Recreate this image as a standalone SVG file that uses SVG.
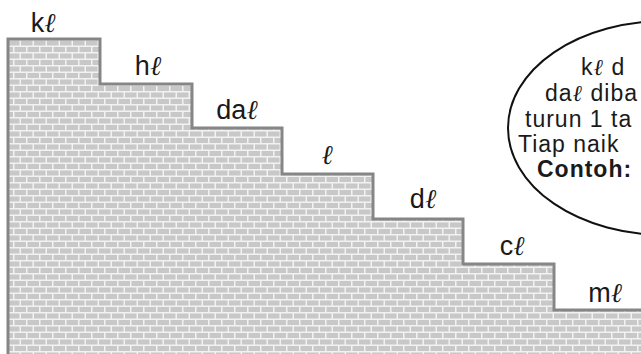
<svg xmlns="http://www.w3.org/2000/svg" width="641" height="354" viewBox="0 0 641 354">
  <style>
    .lbl { font-family: "Liberation Sans", Arial, sans-serif; font-size: 27px; fill: #1a1a1a; text-anchor: middle; }
    .note { font-family: "Liberation Sans", Arial, sans-serif; font-size: 23px; letter-spacing: 1px; fill: #1a1a1a; }
    .bold { font-weight: bold; }
    .l { font-family: "DejaVu Serif", "Liberation Serif", serif; font-style: italic; }
  </style>
  <defs>
    <pattern id="bricks" patternUnits="userSpaceOnUse" x="8" y="39" width="13" height="13">
      <rect x="0" y="0" width="13" height="13" fill="#f2f2f2"/>
      <rect x="0" y="1.5" width="11.5" height="5" fill="#c8c8c8"/>
      <rect x="-6.5" y="8" width="11.5" height="5" fill="#c8c8c8"/>
      <rect x="6.5" y="8" width="11.5" height="5" fill="#c8c8c8"/>
    </pattern>
  </defs>
  <rect width="641" height="354" fill="#ffffff"/>
  <g id="stairs">
    <path d="M8,354 V39 H100 V84 H192 V128 H282 V174 H373 V219 H463 V264 H554 V310 H641 V354 Z" fill="url(#bricks)"/>
    <path d="M8,356 V39 H100 V84 H192 V128 H282 V174 H373 V219 H463 V264 H554 V310 H643" fill="none" stroke="#868686" stroke-width="3"/>
  </g>
  <g id="step-labels">
    <text class="lbl" x="43" y="32">k<tspan class="l">ℓ</tspan></text>
    <text class="lbl" x="148" y="75">h<tspan class="l">ℓ</tspan></text>
    <text class="lbl" x="237" y="119">da<tspan class="l">ℓ</tspan></text>
    <text class="lbl" x="327" y="164"><tspan class="l">ℓ</tspan></text>
    <text class="lbl" x="423" y="208">d<tspan class="l">ℓ</tspan></text>
    <text class="lbl" x="512" y="255">c<tspan class="l">ℓ</tspan></text>
    <text class="lbl" x="605" y="302">m<tspan class="l">ℓ</tspan></text>
  </g>
  <g id="note">
    <ellipse cx="665" cy="128" rx="157" ry="107" fill="#ffffff" stroke="#111111" stroke-width="2"/>
    <text class="note" x="581" y="75">k<tspan class="l">ℓ</tspan> d</text>
    <text class="note" x="545" y="101">da<tspan class="l">ℓ</tspan> diba</text>
    <text class="note" x="525" y="127">turun 1 ta</text>
    <text class="note" x="518" y="152">Tiap naik</text>
    <text class="note bold" x="537" y="177">Contoh:</text>
  </g>
</svg>
